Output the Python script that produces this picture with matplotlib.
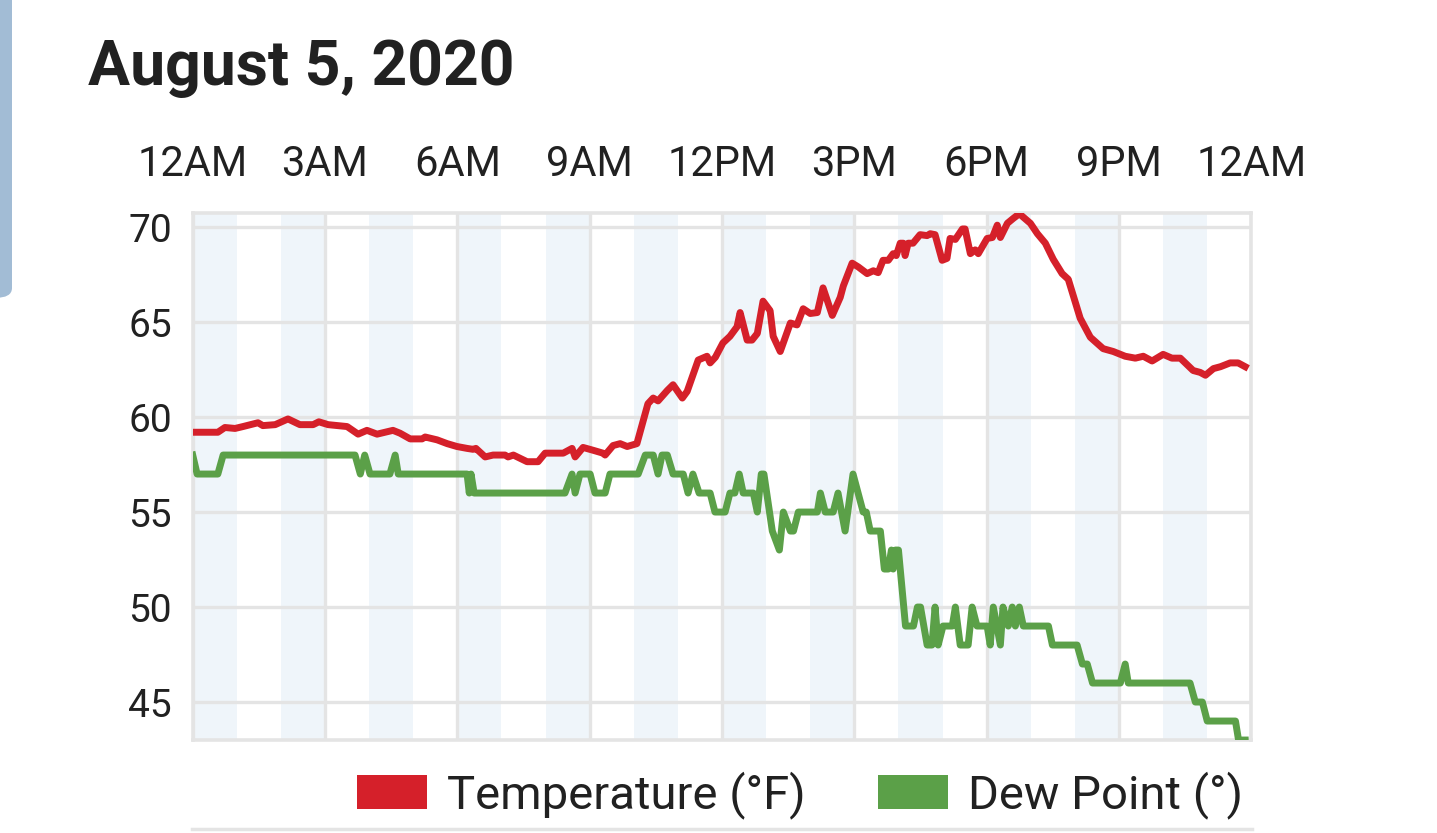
import matplotlib
matplotlib.use('Agg')
import matplotlib.pyplot as plt
from matplotlib.patches import Patch, FancyBboxPatch
from matplotlib.lines import Line2D

plt.rcParams['font.family'] = ['Roboto', 'DejaVu Sans']

# Temperature readings (hour of day, degrees F)
temp_hours = [0.0, 0.57, 0.73, 0.96, 1.14, 1.48, 1.59, 1.87, 2.16, 2.43, 2.73, 2.86, 3.07, 3.50,
              3.75, 3.95, 4.18, 4.54, 4.70, 4.93, 5.20, 5.27, 5.54, 5.77, 5.99, 6.22, 6.36, 6.42,
              6.63, 6.81, 7.08, 7.15, 7.27, 7.58, 7.83, 7.99, 8.40, 8.60, 8.67, 8.85, 9.08, 9.30,
              9.35, 9.53, 9.69, 9.85, 10.07, 10.32, 10.44, 10.55, 10.76, 10.89, 11.10, 11.21,
              11.46, 11.66, 11.73, 11.85, 12.02, 12.18, 12.34, 12.41, 12.57, 12.68, 12.80, 12.93,
              13.09, 13.16, 13.32, 13.55, 13.70, 13.84, 14.00, 14.16, 14.29, 14.50, 14.68, 14.75,
              14.95, 15.09, 15.29, 15.43, 15.54, 15.65, 15.77, 15.88, 15.95, 16.04, 16.11, 16.15,
              16.22, 16.33, 16.49, 16.65, 16.72, 16.83, 16.99, 17.10, 17.17, 17.29, 17.45, 17.51,
              17.63, 17.74, 17.81, 18.01, 18.13, 18.24, 18.31, 18.47, 18.60, 18.74, 18.99, 19.15,
              19.33, 19.51, 19.71, 19.85, 20.12, 20.35, 20.64, 20.87, 21.14, 21.37, 21.55, 21.75,
              22.00, 22.20, 22.39, 22.68, 22.84, 22.96, 23.14, 23.30, 23.52, 23.70, 23.86]
temp_values = [59.2, 59.2, 59.45, 59.4, 59.5, 59.7, 59.55, 59.6, 59.9, 59.6, 59.6, 59.75, 59.6, 59.5,
               59.1, 59.3, 59.1, 59.3, 59.15, 58.85, 58.85, 58.95, 58.8, 58.6, 58.45, 58.35, 58.3, 58.35,
               57.9, 58.0, 58.0, 57.9, 58.0, 57.65, 57.65, 58.1, 58.1, 58.35, 57.9, 58.4, 58.25, 58.1,
               58.0, 58.5, 58.6, 58.45, 58.6, 60.7, 61.0, 60.85, 61.4, 61.7, 61.0, 61.35,
               63.0, 63.2, 62.85, 63.15, 63.9, 64.25, 64.75, 65.5, 64.05, 64.05, 64.4, 66.1,
               65.6, 64.25, 63.45, 64.95, 64.85, 65.7, 65.45, 65.5, 66.8, 65.35, 66.3, 66.9,
               68.1, 67.9, 67.55, 67.7, 67.6, 68.25, 68.25, 68.6, 68.5, 69.15, 69.15, 68.5,
               69.15, 69.15, 69.6, 69.55, 69.65, 69.6, 68.25, 68.35, 69.4, 69.35, 69.9, 69.9,
               68.6, 68.8, 68.6, 69.4, 69.45, 70.1, 69.45, 70.2, 70.45, 70.7, 70.2, 69.65,
               69.15, 68.3, 67.55, 67.25, 65.2, 64.2, 63.6, 63.45, 63.2, 63.1, 63.2, 62.95,
               63.3, 63.1, 63.1, 62.45, 62.35, 62.2, 62.55, 62.65, 62.85, 62.85, 62.65]

# Dew point readings (hour of day, degrees)
dew_hours = [0.0, 0.10, 0.57, 0.69, 3.68, 3.80, 3.90, 4.02, 4.47, 4.59, 4.66, 6.22, 6.27, 6.31, 6.38,
             8.44, 8.60, 8.67, 8.78, 9.01, 9.12, 9.35, 9.46, 10.10, 10.26, 10.44, 10.55, 10.64, 10.76,
             10.89, 11.12, 11.23, 11.34, 11.48, 11.73, 11.84, 12.07, 12.18, 12.29, 12.39, 12.48,
             12.71, 12.80, 12.89, 12.95, 13.14, 13.30, 13.39, 13.55, 13.62, 13.73, 14.16, 14.23,
             14.34, 14.52, 14.63, 14.79, 14.97, 15.20, 15.27, 15.36, 15.59, 15.68, 15.77, 15.84,
             15.88, 15.93, 16.00, 16.16, 16.34, 16.43, 16.50, 16.65, 16.76, 16.83, 16.90, 17.01,
             17.22, 17.29, 17.40, 17.58, 17.67, 17.78, 18.01, 18.08, 18.15, 18.31, 18.37, 18.49,
             18.58, 18.65, 18.74, 18.83, 19.40, 19.49, 20.05, 20.17, 20.28, 20.40, 21.03, 21.14,
             21.21, 22.61, 22.73, 22.89, 23.00, 23.64, 23.71, 23.86]
dew_values = [58, 57, 57, 58, 58, 57, 58, 57, 57, 58, 57, 57, 56, 57, 56,
              56, 57, 56, 57, 57, 56, 56, 57, 57, 58, 58, 57, 58, 58,
              57, 57, 56, 57, 56, 56, 55, 55, 56, 56, 57, 56,
              56, 55, 57, 57, 54, 53, 55, 54, 54, 55, 55, 56,
              55, 55, 56, 54, 57, 55, 55, 54, 54, 52, 52, 53,
              52, 53, 53, 49, 49, 50, 50, 48, 48, 50, 48, 49,
              49, 50, 48, 48, 50, 49, 49, 48, 50, 48, 50, 49,
              50, 49, 50, 49, 49, 48, 48, 47, 47, 46, 46, 47,
              46, 46, 45, 45, 44, 44, 43, 43]

hour_ticks = [0, 3, 6, 9, 12, 15, 18, 21, 24]
hour_labels = ['12AM', '3AM', '6AM', '9AM', '12PM', '3PM', '6PM', '9PM', '12AM']
temp_ticks = [45, 50, 55, 60, 65, 70]

RED = '#d5202a'
GREEN = '#5ba048'
GRID = '#e4e4e4'
BAND = '#eff5fa'
TEXT = '#212121'

fig = plt.figure(figsize=(14.37, 8.33), dpi=100)
ax = fig.add_axes([0.1341, 0.1116, 0.7367, 0.6327])

# alternating hour bands
for h in range(0, 24, 2):
    ax.axvspan(h, h + 1, color=BAND, lw=0, zorder=0)

ax.plot(temp_hours, temp_values, color=RED, lw=5.0, solid_joinstyle='round', zorder=3)
ax.plot(dew_hours, dew_values, color=GREEN, lw=5.0, solid_joinstyle='round', zorder=3)

ax.set_xlim(0, 24)
ax.set_ylim(43, 70.74)
ax.set_xticks(hour_ticks)
ax.set_xticklabels(hour_labels)
ax.set_yticks(temp_ticks)
ax.xaxis.tick_top()
ax.tick_params(axis='x', length=0, pad=20, labelsize=30, labelcolor=TEXT)
ax.tick_params(axis='y', length=0, pad=15, labelsize=28, labelcolor=TEXT)
ax.grid(True, color=GRID, lw=2.4, zorder=1)
ax.set_axisbelow(True)
for s in ax.spines.values():
    s.set_color(GRID)
    s.set_linewidth(2.6)

fig.text(88 / 1437, 1 - 85 / 833, 'August 5, 2020', fontsize=45, fontweight='bold',
         color=TEXT, ha='left', va='baseline')

handles = [Patch(facecolor=RED, edgecolor='none'), Patch(facecolor=GREEN, edgecolor='none')]
fig.legend(handles, ['Temperature (°F)', 'Dew Point (°)'], loc='center',
           bbox_to_anchor=(800 / 1437, 1 - 795 / 833), ncol=2, frameon=False,
           fontsize=34, handlelength=1.48, handleheight=0.72, handletextpad=0.42,
           columnspacing=1.55, borderpad=0, borderaxespad=0, labelcolor=TEXT)

# page chrome around the chart
fig.patches.append(FancyBboxPatch((-20 / 1437, 1 - 298 / 833), 32 / 1437, 320 / 833,
                                  boxstyle='round,pad=0,rounding_size=0.012',
                                  transform=fig.transFigure, facecolor='#a2bcd5',
                                  edgecolor='none'))
fig.lines.append(Line2D([192 / 1437, 1252 / 1437], [1 - 829 / 833] * 2,
                        transform=fig.transFigure, color=GRID, lw=2.5))

fig.savefig('out.png', dpi=100)
